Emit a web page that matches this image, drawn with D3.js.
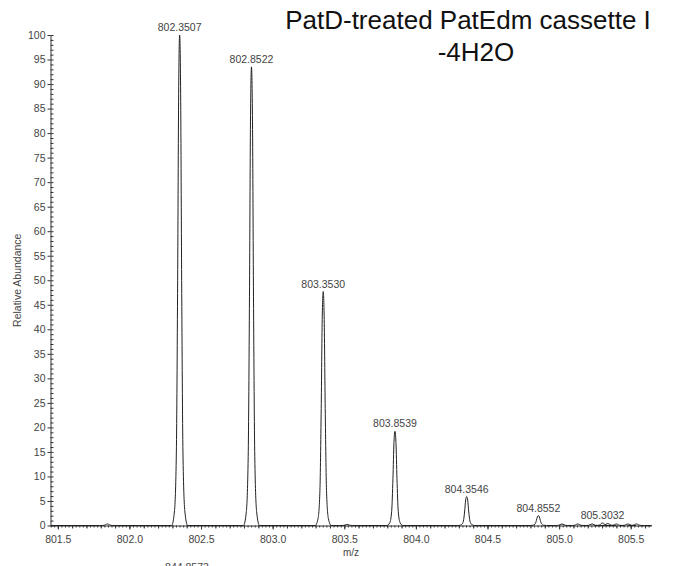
<!DOCTYPE html>
<html>
<head>
<meta charset="utf-8">
<script src="https://cdn.jsdelivr.net/npm/d3@7"></script>
<style>
  html, body { margin: 0; padding: 0; background: #fff; }
  svg { display: block; }
  text { font-family: "Liberation Sans", Arial, Helvetica, sans-serif; }
</style>
</head>
<body>
<svg id="chart" width="682" height="566"></svg>
<script>
// Labelled isotope peaks (m/z, relative abundance %)
const peakMz = [802.3507, 802.8522, 803.3530, 803.8539, 804.3546, 804.8552, 805.3032];
const peakAbundance = [100, 93.5, 47.7, 19.2, 5.9, 2.0, 0.5];
const peakLabels = ["802.3507", "802.8522", "803.3530", "803.8539", "804.3546", "804.8552", "805.3032"];

// Small unlabelled baseline signals
const noiseMz = [801.847, 803.52, 805.02, 805.13, 805.23, 805.34, 805.40, 805.48, 805.54];
const noiseAbundance = [0.3, 0.2, 0.3, 0.3, 0.3, 0.4, 0.3, 0.3, 0.3];

// Axis ticks
const xTickValues = [801.5, 802.0, 802.5, 803.0, 803.5, 804.0, 804.5, 805.0, 805.5];
const xTickLabels = ["801.5", "802.0", "802.5", "803.0", "803.5", "804.0", "804.5", "805.0", "805.5"];
const yTickValues = [0, 5, 10, 15, 20, 25, 30, 35, 40, 45, 50, 55, 60, 65, 70, 75, 80, 85, 90, 95, 100];

// Profile shape of a single centroid peak (m/z offset, fraction of apex)
const profileOffset = [-0.056, -0.036, -0.023, -0.014, -0.007, 0, 0.007, 0.014, 0.023, 0.036, 0.056];
const profileFraction = [0, 0.03, 0.15, 0.5, 0.88, 1, 0.88, 0.5, 0.15, 0.03, 0];

const xDomain = [801.449, 805.645];
const svg = d3.select("#chart");
const plotLeft = 50.5, plotRight = 651.5, plotTop = 35, plotBottom = 525.5;

const x = d3.scaleLinear().domain(xDomain).range([plotLeft, plotRight]);
const y = d3.scaleLinear().domain([0, 100]).range([plotBottom, plotTop]);

svg.append("rect").attr("width", 682).attr("height", 566).attr("fill", "#fff");

// Build the spectrum trace
const allPeaks = peakMz.map((m, i) => ({ mz: m, ab: peakAbundance[i] }))
  .concat(noiseMz.map((m, i) => ({ mz: m, ab: noiseAbundance[i] })))
  .sort((a, b) => a.mz - b.mz);

const trace = [[xDomain[0], 0]];
allPeaks.forEach(p => {
  profileOffset.forEach((d, k) => trace.push([p.mz + d, p.ab * profileFraction[k]]));
});
trace.push([xDomain[1], 0]);

const line = d3.line().x(d => x(d[0])).y(d => y(d[1])).curve(d3.curveMonotoneX);

// Axes
const tickColor = "#333";
const fontSize = "10.5px";

const yMinor = d3.range(0, 101, 1);
svg.append("g")
  .attr("transform", `translate(${plotLeft},0)`)
  .call(d3.axisRight(y).tickValues(yMinor).tickSize(3).tickFormat(""))
  .call(g => g.select(".domain").remove())
  .call(g => g.selectAll("line").attr("stroke", tickColor));

svg.append("g")
  .attr("transform", `translate(${plotLeft},0)`)
  .call(d3.axisLeft(y).tickValues(yTickValues).tickSize(3).tickSizeOuter(0).tickPadding(2).tickFormat(d3.format("d")))
  .call(g => g.select(".domain").attr("stroke", tickColor))
  .call(g => g.selectAll("line").attr("stroke", tickColor))
  .call(g => g.selectAll("text").attr("fill", "#444").style("font-size", fontSize));

const xMinor = d3.range(0, 169).map(i => 801.45 + i * 0.025).filter(v => v <= xDomain[1]);
svg.append("g")
  .attr("transform", `translate(0,${plotBottom})`)
  .call(d3.axisBottom(x).tickValues(xMinor).tickSize(2).tickFormat(""))
  .call(g => g.select(".domain").remove())
  .call(g => g.selectAll("line").attr("stroke", tickColor));

const xMid = d3.range(0, 43).map(i => 801.5 + i * 0.1).filter(v => v <= xDomain[1]);
svg.append("g")
  .attr("transform", `translate(0,${plotBottom})`)
  .call(d3.axisBottom(x).tickValues(xMid).tickSize(3).tickFormat(""))
  .call(g => g.select(".domain").remove())
  .call(g => g.selectAll("line").attr("stroke", tickColor));

svg.append("g")
  .attr("transform", `translate(0,${plotBottom})`)
  .call(d3.axisBottom(x).tickValues(xTickValues).tickSize(4).tickSizeOuter(0).tickPadding(6)
    .tickFormat((d, i) => xTickLabels[i]))
  .call(g => g.select(".domain").attr("stroke", tickColor))
  .call(g => g.selectAll("line").attr("stroke", tickColor))
  .call(g => g.selectAll("text").attr("fill", "#444").style("font-size", fontSize));

// Spectrum trace
svg.append("path")
  .datum(trace)
  .attr("fill", "none")
  .attr("stroke", "#222")
  .attr("stroke-width", 1)
  .attr("stroke-linejoin", "round")
  .attr("d", line);

// Peak annotations
svg.append("g")
  .selectAll("text")
  .data(peakMz)
  .join("text")
  .attr("x", d => x(d))
  .attr("y", (d, i) => y(peakAbundance[i]) - 4)
  .attr("text-anchor", "middle")
  .attr("fill", "#444")
  .style("font-size", fontSize)
  .text((d, i) => peakLabels[i]);

// Axis titles
svg.append("text")
  .attr("x", (plotLeft + plotRight) / 2)
  .attr("y", 556)
  .attr("text-anchor", "middle")
  .attr("fill", "#444")
  .style("font-size", "10px")
  .text("m/z");

svg.append("text")
  .attr("transform", `translate(21,${(plotTop + plotBottom) / 2}) rotate(-90)`)
  .attr("text-anchor", "middle")
  .attr("fill", "#444")
  .style("font-size", "10.5px")
  .text("Relative Abundance");

// Annotation of the panel below, clipped by the bottom edge
svg.append("text")
  .attr("x", 187)
  .attr("y", 571)
  .attr("text-anchor", "middle")
  .attr("fill", "#444")
  .style("font-size", fontSize)
  .text("844.8573");

// Chart title
const title = svg.append("text")
  .attr("text-anchor", "middle")
  .attr("fill", "#111")
  .style("font-size", "26px");
title.append("tspan").attr("x", 468).attr("y", 29).text("PatD-treated PatEdm cassette I");
title.append("tspan").attr("x", 476).attr("y", 61).text("-4H2O");
</script>
</body>
</html>
